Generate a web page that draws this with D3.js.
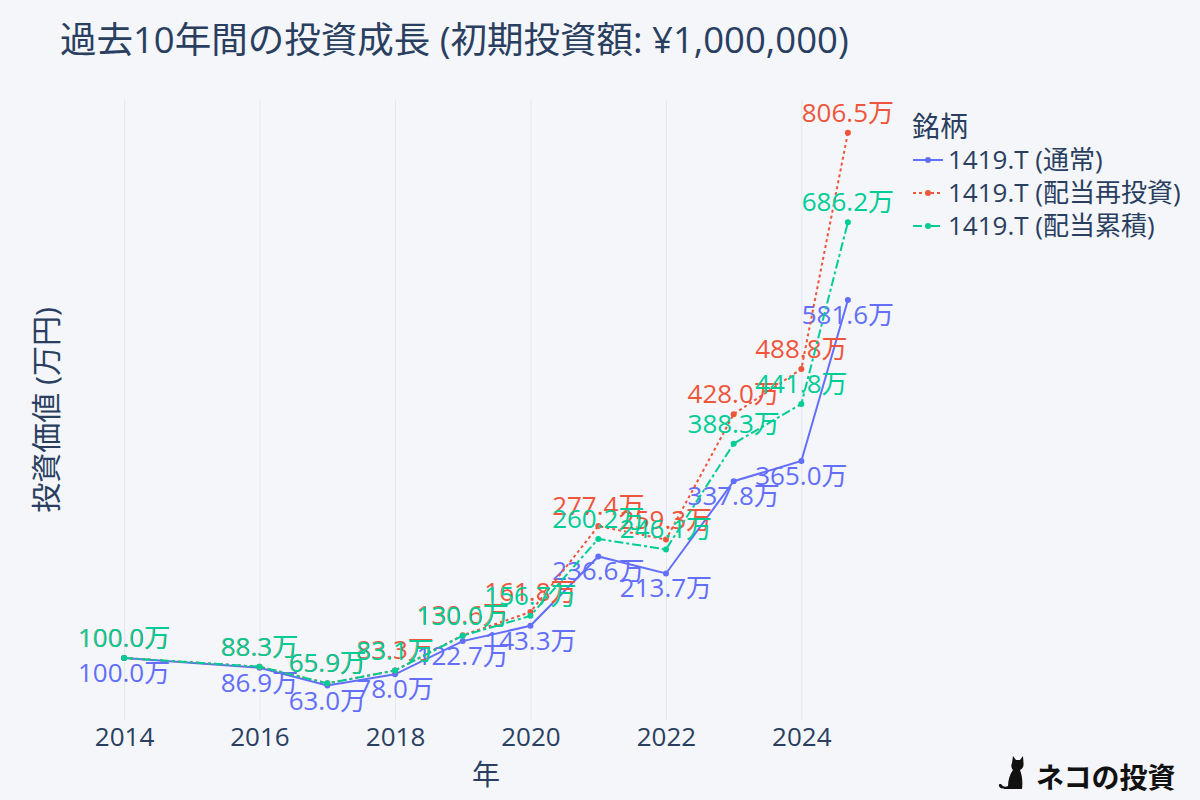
<!DOCTYPE html>
<html>
<head>
<meta charset="utf-8">
<script src="https://cdn.jsdelivr.net/npm/d3@7"></script>
<style>
  body { margin: 0; background: #f4f6fa; }
  text { font-family: 'Open Sans', 'Noto Sans CJK JP', sans-serif; }
</style>
</head>
<body>
<div id="chart"></div>
<script>
const dates = ['2014-01-01', '2016-01-01', '2017-01-01', '2018-01-01', '2019-01-01', '2020-01-01',
    '2021-01-01', '2022-01-01', '2023-01-01', '2024-01-01', '2024-09-08']
const normalValues = [100.0, 86.9, 63.0, 78.0, 122.7, 143.3, 236.6, 213.7, 337.8, 365.0, 581.6]
const reinvestValues = [100.0, 88.3, 65.9, 83.3, 130.6, 161.8, 277.4, 259.3, 428.0, 488.8, 806.5]
const accumValues = [100.0, 88.3, 65.9, 83.1, 130.0, 156.7, 260.2, 246.1, 388.3, 441.8, 686.2]
const seriesNames = ['1419.T (通常)', '1419.T (配当再投資)', '1419.T (配当累積)']
const colors = ['#636efa', '#ef553b', '#00cc96']
const dashes = [null, '3,3', '9,3,3,3']
const textAbove = [false, true, true]

const width = 1200
const height = 800
const plot = { left: 82, right: 890, top: 100, bottom: 720 }
const textColor = '#2a3f5f'
const fontFamily = "'Open Sans', 'Noto Sans CJK JP', sans-serif"

const parseDate = d3.utcParse('%Y-%m-%d')
const xScale = d3.scaleUtc()
    .domain([parseDate('2013-05-19'), parseDate('2025-04-23')])
    .range([plot.left, plot.right])
const yScale = d3.scaleLinear().domain([16.6, 850.6]).range([plot.bottom, plot.top])

const svg = d3.select('#chart')
    .append('svg')
    .attr('width', width)
    .attr('height', height)

svg.append('rect')
    .attr('width', width)
    .attr('height', height)
    .style('fill', '#f4f6fa')

// vertical grid + year labels
const xAxis = d3.axisBottom(xScale)
    .ticks(d3.utcYear.every(2))
    .tickFormat(d3.utcFormat('%Y'))
    .tickSize(-(plot.bottom - plot.top))
    .tickPadding(8)

const xg = svg.append('g')
    .attr('transform', `translate(0, ${plot.bottom})`)
    .call(xAxis)
xg.select('.domain').remove()
xg.selectAll('line').style('stroke', '#e3e7ef').style('stroke-width', 1)
xg.selectAll('text')
    .style('font-size', '26px')
    .style('fill', textColor)
    .style('font-family', fontFamily)

svg.append('text')
    .attr('x', (plot.left + plot.right) / 2)
    .attr('y', 785)
    .attr('text-anchor', 'middle')
    .style('font-size', '28px')
    .style('fill', textColor)
    .text('年')

svg.append('text')
    .attr('transform', `translate(57, ${(plot.top + plot.bottom) / 2}) rotate(-90)`)
    .attr('text-anchor', 'middle')
    .style('font-size', '30px')
    .style('fill', textColor)
    .text('投資価値 (万円)')

svg.append('text')
    .attr('x', 60)
    .attr('y', 53)
    .style('font-size', '36.5px')
    .style('fill', textColor)
    .text('過去10年間の投資成長 (初期投資額: ¥1,000,000)')

const allSeries = [normalValues, reinvestValues, accumValues]
const line = d3.line()
    .x((d) => xScale(d.date))
    .y((d) => yScale(d.value))

allSeries.forEach((values, i) => {
    const data = values.map((v, j) => ({ date: parseDate(dates[j]), value: v }))
    const g = svg.append('g')
    g.append('path')
        .datum(data)
        .attr('d', line)
        .style('fill', 'none')
        .style('stroke', colors[i])
        .style('stroke-width', 2)
        .style('stroke-dasharray', dashes[i])
    g.selectAll('circle')
        .data(data)
        .enter()
        .append('circle')
        .attr('cx', (d) => xScale(d.date))
        .attr('cy', (d) => yScale(d.value))
        .attr('r', 3)
        .style('fill', colors[i])
    g.selectAll('text')
        .data(data)
        .enter()
        .append('text')
        .attr('x', (d) => xScale(d.date))
        .attr('y', (d) => yScale(d.value) + (textAbove[i] ? -11 : 24))
        .attr('text-anchor', 'middle')
        .style('font-size', '26px')
        .style('fill', colors[i])
        .text((d) => d.value.toFixed(1) + '万')
})

// legend
const legend = svg.append('g').attr('transform', 'translate(912, 0)')
legend.append('text')
    .attr('x', 0)
    .attr('y', 137)
    .style('font-size', '28px')
    .style('fill', textColor)
    .text('銘柄')
seriesNames.forEach((name, i) => {
    const cy = 160 + i * 33
    legend.append('line')
        .attr('x1', 1).attr('x2', 31)
        .attr('y1', cy).attr('y2', cy)
        .style('stroke', colors[i])
        .style('stroke-width', 2)
        .style('stroke-dasharray', dashes[i])
    legend.append('circle')
        .attr('cx', 16).attr('cy', cy).attr('r', 3)
        .style('fill', colors[i])
    legend.append('text')
        .attr('x', 36)
        .attr('y', cy + 9)
        .style('font-size', '26px')
        .style('fill', textColor)
        .text(name)
})

// logo
const logo = svg.append('g').attr('transform', 'translate(998, 755)')
logo.append('path')
    .attr('d', 'M14,8 L15,1 L18,5 L22,5 L25,1 L25.5,8 C26,12 24,14 22,15 C24,20 25,27 24,34 L10,34 C6,34 2,34 1,31 C0,29 3,28 4,30 C5,32 8,32 10,31 C10,25 12,19 15,15 C13,13 13,10 14,8 Z')
    .style('fill', '#111')
logo.append('text')
    .attr('x', 38)
    .attr('y', 33)
    .style('font-size', '28px')
    .style('font-weight', 700)
    .style('font-family', "'Noto Sans CJK JP', sans-serif")
    .style('fill', '#111')
    .text('ネコの投資')
</script>
</body>
</html>
